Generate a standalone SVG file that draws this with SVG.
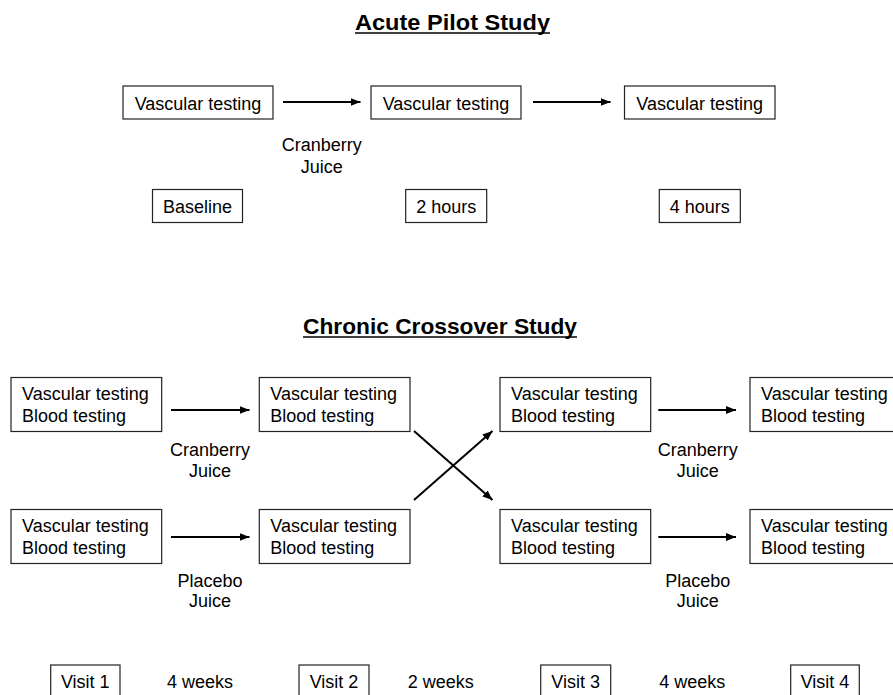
<svg xmlns="http://www.w3.org/2000/svg" width="893" height="695" viewBox="0 0 893 695">
<style>
  .box { fill: #fff; stroke: #222; stroke-width: 1.2; }
  .t { font-family: "Liberation Sans", Arial, sans-serif; font-size: 18px; fill: #000; }
  .c { text-anchor: middle; }
  .title { font-family: "Liberation Sans", Arial, sans-serif; font-size: 22px; font-weight: bold; fill: #000; text-anchor: middle; }
  .ul { stroke: #000; stroke-width: 1.6; }
  .arr { stroke: #000; stroke-width: 2; fill: none; marker-end: url(#ah); }
</style>
<defs>
  <marker id="ah" markerUnits="userSpaceOnUse" markerWidth="10" markerHeight="8" refX="10" refY="4" orient="auto">
    <path d="M0,0 L10,4 L0,8 z" fill="#000"/>
  </marker>
</defs>
<rect width="893" height="695" fill="#fff"/>

<g id="title-acute">
  <text class="title" x="452.5" y="30" textLength="195" lengthAdjust="spacingAndGlyphs">Acute Pilot Study</text>
  <line class="ul" x1="355" y1="33" x2="550" y2="33"/>
</g>

<g id="acute-1"><rect class="box" x="123" y="86" width="150" height="33"/><text class="t c" x="198" y="110">Vascular testing</text></g>
<g id="acute-2"><rect class="box" x="371" y="86" width="150" height="33"/><text class="t c" x="446" y="110">Vascular testing</text></g>
<g id="acute-3"><rect class="box" x="624.5" y="86" width="150.5" height="33"/><text class="t c" x="699.7" y="110">Vascular testing</text></g>
<g id="acute-label"><text class="t c" x="321.7" y="150.5">Cranberry</text><text class="t c" x="321.7" y="172.5">Juice</text></g>
<g id="baseline"><rect class="box" x="152.5" y="189.5" width="90" height="33"/><text class="t c" x="197.5" y="212.5">Baseline</text></g>
<g id="h2"><rect class="box" x="405.7" y="189.5" width="81" height="33"/><text class="t c" x="446.2" y="212.5">2 hours</text></g>
<g id="h4"><rect class="box" x="659.3" y="189.5" width="81" height="33"/><text class="t c" x="699.8" y="212.5">4 hours</text></g>

<g id="title-chronic">
  <text class="title" x="440" y="334" textLength="274" lengthAdjust="spacingAndGlyphs">Chronic Crossover Study</text>
  <line class="ul" x1="303" y1="337" x2="577" y2="337"/>
</g>

<g id="a1"><rect class="box" x="11" y="377.5" width="150.7" height="54"/><text class="t" x="22" y="400">Vascular testing</text><text class="t" x="22" y="422">Blood testing</text></g>
<g id="a2"><rect class="box" x="259.3" y="377.5" width="150.7" height="54"/><text class="t" x="270.3" y="400">Vascular testing</text><text class="t" x="270.3" y="422">Blood testing</text></g>
<g id="a3"><rect class="box" x="500" y="377.5" width="150.7" height="54"/><text class="t" x="511" y="400">Vascular testing</text><text class="t" x="511" y="422">Blood testing</text></g>
<g id="a4"><rect class="box" x="750" y="377.5" width="150.7" height="54"/><text class="t" x="761" y="400">Vascular testing</text><text class="t" x="761" y="422">Blood testing</text></g>

<g id="b1"><rect class="box" x="11" y="509.5" width="150.7" height="54"/><text class="t" x="22" y="532">Vascular testing</text><text class="t" x="22" y="554">Blood testing</text></g>
<g id="b2"><rect class="box" x="259.3" y="509.5" width="150.7" height="54"/><text class="t" x="270.3" y="532">Vascular testing</text><text class="t" x="270.3" y="554">Blood testing</text></g>
<g id="b3"><rect class="box" x="500" y="509.5" width="150.7" height="54"/><text class="t" x="511" y="532">Vascular testing</text><text class="t" x="511" y="554">Blood testing</text></g>
<g id="b4"><rect class="box" x="750" y="509.5" width="150.7" height="54"/><text class="t" x="761" y="532">Vascular testing</text><text class="t" x="761" y="554">Blood testing</text></g>

<g id="labels-chronic">
  <text class="t c" x="210" y="455.7">Cranberry</text><text class="t c" x="210" y="476.7">Juice</text>
  <text class="t c" x="210" y="586.7">Placebo</text><text class="t c" x="210" y="606.7">Juice</text>
  <text class="t c" x="697.7" y="455.7">Cranberry</text><text class="t c" x="697.7" y="476.7">Juice</text>
  <text class="t c" x="697.7" y="586.7">Placebo</text><text class="t c" x="697.7" y="606.7">Juice</text>
</g>

<g id="visit1"><rect class="box" x="50.7" y="665" width="69.3" height="40"/><text class="t c" x="85.3" y="688.3">Visit 1</text></g>
<g id="visit2"><rect class="box" x="299" y="665" width="70" height="40"/><text class="t c" x="334" y="688.3">Visit 2</text></g>
<g id="visit3"><rect class="box" x="540.7" y="665" width="70" height="40"/><text class="t c" x="575.7" y="688.3">Visit 3</text></g>
<g id="visit4"><rect class="box" x="790.7" y="665" width="68.6" height="40"/><text class="t c" x="825" y="688.3">Visit 4</text></g>
<g id="intervals">
  <text class="t c" x="200" y="688.3">4 weeks</text>
  <text class="t c" x="440.7" y="688.3">2 weeks</text>
  <text class="t c" x="692.3" y="688.3">4 weeks</text>
</g>

<g id="connectors">
  <line class="arr" x1="283" y1="102" x2="360.5" y2="102"/>
  <line class="arr" x1="533" y1="102" x2="610.5" y2="102"/>
  <line class="arr" x1="171" y1="410" x2="249.5" y2="410"/>
  <line class="arr" x1="171" y1="537" x2="249.5" y2="537"/>
  <line class="arr" x1="658.3" y1="410" x2="736" y2="410"/>
  <line class="arr" x1="658.3" y1="537" x2="736" y2="537"/>
  <line class="arr" x1="414" y1="431" x2="492.5" y2="500"/>
  <line class="arr" x1="414" y1="500" x2="492.5" y2="431"/>
</g>
</svg>
